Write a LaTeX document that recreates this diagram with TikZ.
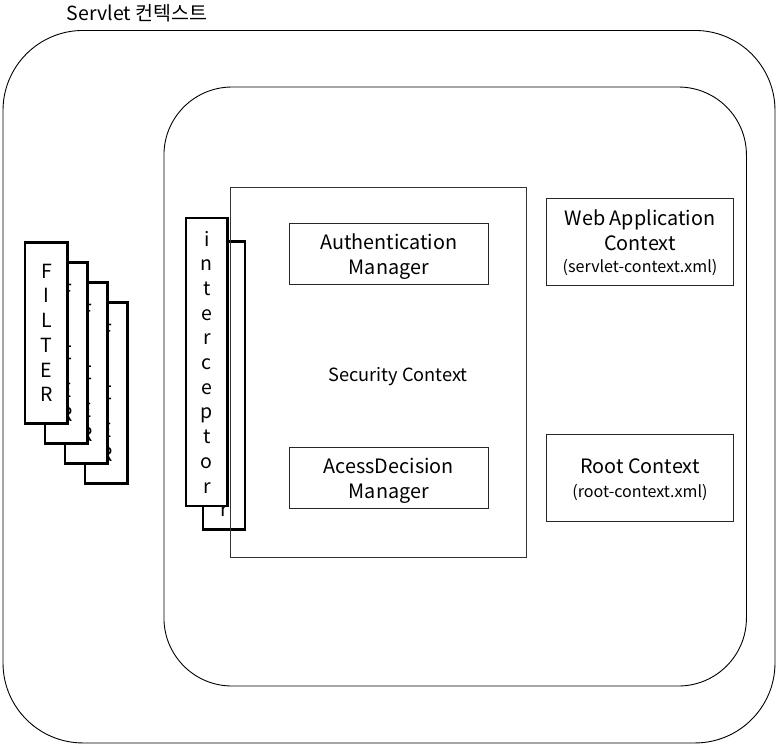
\documentclass[tikz,border=0pt]{standalone}
\usepackage{fontspec}
\setmainfont{Noto Sans CJK KR}
\begin{document}
\begin{tikzpicture}[x=1pt,y=-1pt,
  ctx/.style={draw=black, line width=0.9pt, rectangle},
  thin box/.style={draw=black!85, line width=1pt, fill=white, rectangle, inner sep=0pt},
  thick box/.style={draw=black, line width=2.8pt, fill=white, rectangle, inner sep=0pt},
  filterbox/.style={thick box, minimum width=42.3pt, minimum height=181pt},
  icbox/.style={thick box, minimum width=41.7pt, minimum height=288pt},
  vtext/.style={align=center, font=\fontsize{19.5}{24.7}\selectfont},
  lbl/.style={font=\fontsize{19.8}{24}\selectfont, inner sep=0pt, anchor=base},
  small/.style={font=\fontsize{16.1}{18}\selectfont, inner sep=0pt, anchor=base}]
\useasboundingbox (0,0) rectangle (782,748);
% outer servlet context
\node[ctx, minimum width=772pt, minimum height=712.5pt, rounded corners=80pt] (servlet) at (389,386.7) {};
\node[anchor=base west, inner sep=0pt, font=\fontsize{19.5}{24}\selectfont] (servletlbl) at (66.7,20.7) {Servlet 컨텍스트};
% inner context
\node[ctx, minimum width=582.5pt, minimum height=599pt, rounded corners=68pt] (inner) at (455.2,386.5) {};
% filters (back to front)
\foreach \i/\n in {3/f4,2/f3,1/f2,0/f1}{
  \node[filterbox] (\n) at ({46.1+20*\i},{332.8+20*\i}) {};
  \node[vtext] (\n t) at ([xshift=0.6pt]\n.center) {F\\I\\L\\T\\E\\R};
}
% interceptors
\node[icbox, minimum width=42pt] (ic2) at (224,385.8) {};
\node[vtext] (ic2t) at (ic2.center) {i\\n\\t\\e\\r\\c\\e\\p\\t\\o\\r};
\node[icbox] (ic1) at (206.8,362) {};
\node[vtext] (ic1t) at (ic1.center) {i\\n\\t\\e\\r\\c\\e\\p\\t\\o\\r};
% security context
\node[draw=black!80, line width=1pt, minimum width=296pt, minimum height=370pt, inner sep=0pt] (sec) at (378,372) {};
\node[inner sep=0pt, anchor=base, font=\fontsize{18.2}{24}\selectfont] (seclbl) at (398,381.7) {Security Context};
% managers
\node[thin box, minimum width=199pt, minimum height=60.7pt] (auth) at (388.8,254.3) {};
\node[lbl] (auth1) at (388.8,249) {Authentication};
\node[lbl] (auth2) at (388.8,274.5) {Manager};
\node[thin box, minimum width=199pt, minimum height=60.7pt] (acc) at (388.8,478.3) {};
\node[lbl] (acc1) at (388.8,473.3) {AcessDecision};
\node[lbl] (acc2) at (388.8,498.5) {Manager};
% web application context
\node[thin box, minimum width=186.6pt, minimum height=87.4pt] (web) at (640,242) {};
\node[lbl] (web1) at (640,225) {Web Application};
\node[lbl] (web2) at (640,250) {Context};
\node[small] (web3) at (640,272) {(servlet-context.xml)};
% root context
\node[thin box, minimum width=186.6pt, minimum height=87.4pt] (root) at (640,478) {};
\node[lbl] (root1) at (640,473) {Root Context};
\node[small] (root2) at (640,497) {(root-context.xml)};
\end{tikzpicture}
\end{document}
